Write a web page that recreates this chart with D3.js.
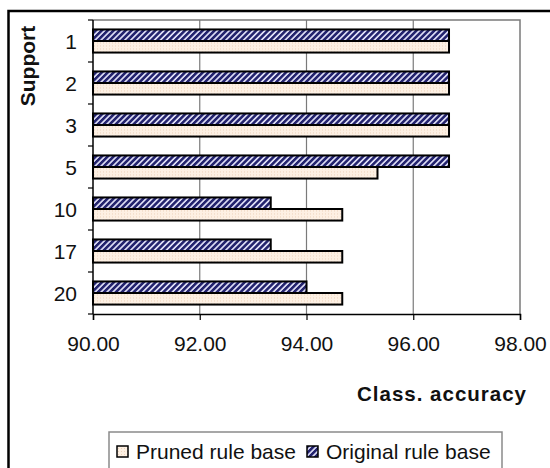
<!DOCTYPE html>
<html>
<head>
<meta charset="utf-8">
<script src="https://cdn.jsdelivr.net/npm/d3@7"></script>
<style>
  html, body { margin: 0; padding: 0; background: #fff; }
  svg { display: block; font-family: Arial, "Liberation Sans", sans-serif; }
</style>
</head>
<body>
<div id="chart"></div>
<script>
const supportLevels = ["1", "2", "3", "5", "10", "17", "20"];
const originalRuleBase = [96.67, 96.67, 96.67, 96.67, 93.33, 93.33, 94.00];
const prunedRuleBase = [96.67, 96.67, 96.67, 95.33, 94.67, 94.67, 94.67];
const xTicks = [90, 92, 94, 96, 98];
const seriesNames = ["Original rule base", "Pruned rule base"];
const legendOrder = ["Pruned rule base", "Original rule base"];

const W = 550, H = 468;
const plot = { left: 93, top: 20, right: 520, bottom: 314 };

const svg = d3.select("#chart").append("svg").attr("width", W).attr("height", H);

// patterns
const defs = svg.append("defs");
const hatch = defs.append("pattern")
  .attr("id", "hatch").attr("patternUnits", "userSpaceOnUse")
  .attr("width", 4.2).attr("height", 4.2)
  .attr("patternTransform", "rotate(45)");
hatch.append("rect").attr("width", 4.2).attr("height", 4.2).attr("fill", "#e4e4fa");
hatch.append("rect").attr("width", 2.6).attr("height", 4.2).attr("fill", "#23236e");

const dots = defs.append("pattern")
  .attr("id", "dots").attr("patternUnits", "userSpaceOnUse")
  .attr("width", 3).attr("height", 3);
dots.append("rect").attr("width", 3).attr("height", 3).attr("fill", "#fdf0e3");
dots.append("rect").attr("x", 1).attr("y", 1).attr("width", 1).attr("height", 1).attr("fill", "#ecd2bb");

const fills = { "Original rule base": "url(#hatch)", "Pruned rule base": "url(#dots)" };

// outer frame (open on right/bottom)
svg.append("path")
  .attr("d", `M8.5,${H} L8.5,11 L${W},11`)
  .attr("fill", "none").attr("stroke", "#000").attr("stroke-width", 2.5);

const x = d3.scaleLinear().domain([90, 98]).range([plot.left, plot.right]);
const y = d3.scaleBand().domain(supportLevels).range([plot.top, plot.bottom]).paddingInner(0.45).paddingOuter(0.225);
const ySub = d3.scaleBand().domain(seriesNames).range([0, y.bandwidth()]);

// plot border (top, right)
svg.append("path")
  .attr("d", `M${plot.left},${plot.top} L${plot.right},${plot.top} L${plot.right},${plot.bottom}`)
  .attr("fill", "none").attr("stroke", "#7a7a7a").attr("stroke-width", 1.5);

// gridlines
svg.append("g").selectAll("line")
  .data(xTicks.filter(t => t > 90 && t < 98))
  .join("line")
  .attr("x1", d => x(d)).attr("x2", d => x(d))
  .attr("y1", plot.top).attr("y2", plot.bottom)
  .attr("stroke", "#7a7a7a").attr("stroke-width", 1.2);

// bars
const rows = supportLevels.map((s, i) => ({
  support: s,
  values: [
    { name: "Original rule base", value: originalRuleBase[i] },
    { name: "Pruned rule base", value: prunedRuleBase[i] }
  ]
}));

const groups = svg.append("g").selectAll("g")
  .data(rows).join("g")
  .attr("transform", d => `translate(0,${y(d.support)})`);

groups.selectAll("rect")
  .data(d => d.values).join("rect")
  .attr("x", x(90))
  .attr("y", d => ySub(d.name))
  .attr("width", d => x(d.value) - x(90))
  .attr("height", ySub.bandwidth())
  .attr("fill", d => fills[d.name])
  .attr("stroke", "#000").attr("stroke-width", 2);

// x axis
const xAxis = svg.append("g")
  .attr("transform", `translate(0,${plot.bottom})`)
  .call(d3.axisBottom(x).tickValues(xTicks).tickFormat(d3.format(".2f")).tickSize(6).tickPadding(16));
xAxis.select(".domain").attr("stroke", "#000").attr("stroke-width", 1.5);
xAxis.selectAll(".tick line").attr("stroke", "#000").attr("stroke-width", 1.2);
xAxis.selectAll(".tick text").attr("font-size", 21).attr("fill", "#111")
  .attr("font-family", "Arial, 'Liberation Sans', sans-serif");

// y axis: line + category boundary ticks
svg.append("line")
  .attr("x1", plot.left).attr("x2", plot.left)
  .attr("y1", plot.top).attr("y2", plot.bottom)
  .attr("stroke", "#000").attr("stroke-width", 1.5);
const step = y.step();
const boundaries = supportLevels.map(s => y(s) - y.paddingInner() * step / 2).concat([plot.bottom]);
svg.append("g").selectAll("line")
  .data(boundaries).join("line")
  .attr("x1", plot.left - 5).attr("x2", plot.left)
  .attr("y1", d => d).attr("y2", d => d)
  .attr("stroke", "#000").attr("stroke-width", 1.2);

svg.append("g").selectAll("text")
  .data(supportLevels).join("text")
  .attr("x", 77)
  .attr("y", d => y(d) + y.bandwidth() / 2)
  .attr("dy", "0.36em")
  .attr("text-anchor", "end")
  .attr("font-size", 21).attr("fill", "#111")
  .text(d => d);

// axis titles
svg.append("text")
  .attr("transform", "translate(35,66) rotate(-90)")
  .attr("text-anchor", "middle")
  .attr("font-size", 21).attr("font-weight", "bold").attr("fill", "#111")
  .text("Support");

svg.append("text")
  .attr("x", 527).attr("y", 401)
  .attr("text-anchor", "end")
  .attr("font-size", 20.5).attr("font-weight", "bold").attr("fill", "#111")
  .attr("letter-spacing", 1)
  .text("Class. accuracy");

// legend
const legend = svg.append("g");
legend.append("rect")
  .attr("x", 109).attr("y", 432).attr("width", 393).attr("height", 60)
  .attr("fill", "#fff").attr("stroke", "#8a8a8a").attr("stroke-width", 1.5);
const legendX = { "Pruned rule base": 117, "Original rule base": 307 };
const items = legend.selectAll("g.item").data(legendOrder).join("g")
  .attr("class", "item")
  .attr("transform", d => `translate(${legendX[d]},0)`);
items.append("rect")
  .attr("x", 0).attr("y", 446).attr("width", 11).attr("height", 11)
  .attr("fill", d => fills[d]).attr("stroke", "#000").attr("stroke-width", 1.5);
items.append("text")
  .attr("x", 19).attr("y", 459)
  .attr("font-size", 21).attr("fill", "#111")
  .text(d => d);
</script>
</body>
</html>
